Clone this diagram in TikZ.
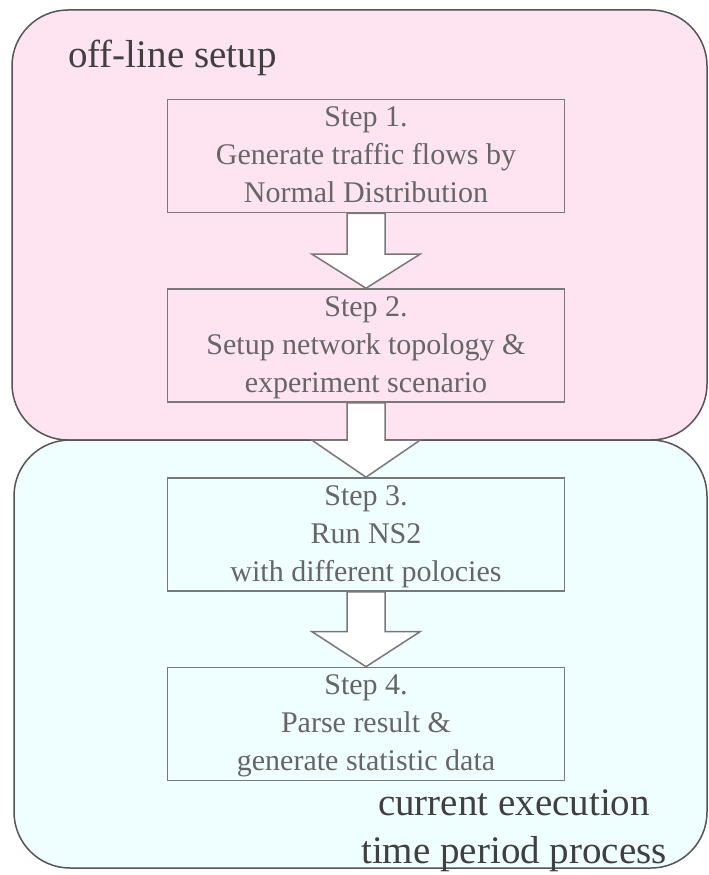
\documentclass[tikz,border=0pt]{standalone}
\usepackage{fontspec}
\setmainfont{Liberation Serif}
\usetikzlibrary{calc}
\definecolor{pinkfill}{RGB}{253,228,240}
\definecolor{cyanfill}{RGB}{239,254,254}
\definecolor{regionline}{RGB}{85,85,85}
\definecolor{boxline}{RGB}{120,120,120}
\definecolor{steptext}{RGB}{102,102,102}
\definecolor{labeltext}{RGB}{64,64,64}
\tikzset{
  region/.style={draw=regionline, line width=1.5pt, rounded corners=56pt},
  stepbox/.style={draw=boxline, line width=1.6pt, minimum width=397pt, minimum height=113pt,
    inner xsep=0pt, inner ysep=0pt, align=center, text=steptext,
    font=\fontsize{30}{38}\selectfont, text height=103pt, text depth=10pt},
  bigarrow/.style={draw=boxline, fill=white, line width=1.5pt, line join=miter},
  biglabel/.style={text=labeltext, font=\fontsize{39}{48}\selectfont, inner sep=0pt}
}
\newcommand\blockarrow[3]{%
  \draw[bigarrow] ([xshift=-19pt]#1.south) -- ([xshift=-19pt,yshift=#3]#2.north)
    -- ([xshift=-54pt,yshift=#3]#2.north) -- (#2.north)
    -- ([xshift=54pt,yshift=#3]#2.north) -- ([xshift=19pt,yshift=#3]#2.north)
    -- ([xshift=19pt]#1.south) -- cycle;}
\begin{document}
\begin{tikzpicture}[x=1pt,y=-1pt]
\useasboundingbox (0,0) rectangle (709,875);
\draw[region, fill=pinkfill] (12,10) rectangle (707,440);
\draw[region, fill=cyanfill] (14,440) rectangle (707,868);
\node[stepbox] (s1) at (366,156) {Step 1.\\Generate traffic flows by\\Normal Distribution};
\node[stepbox] (s2) at (366,345.5) {Step 2.\\Setup network topology \&\\experiment scenario};
\node[stepbox] (s3) at (366,534.5) {Step 3.\\Run NS2\\with different polocies};
\node[stepbox] (s4) at (366,724) {Step 4.\\Parse result \&\\generate statistic data};
\blockarrow{s1}{s2}{34pt}
\blockarrow{s2}{s3}{37pt}
\blockarrow{s3}{s4}{35pt}
\node[biglabel, anchor=base west] (offline) at (68,67) {off-line setup};
\node[biglabel, anchor=base, align=center] (current) at (514,863) {current execution\\time period process};
\end{tikzpicture}
\end{document}
